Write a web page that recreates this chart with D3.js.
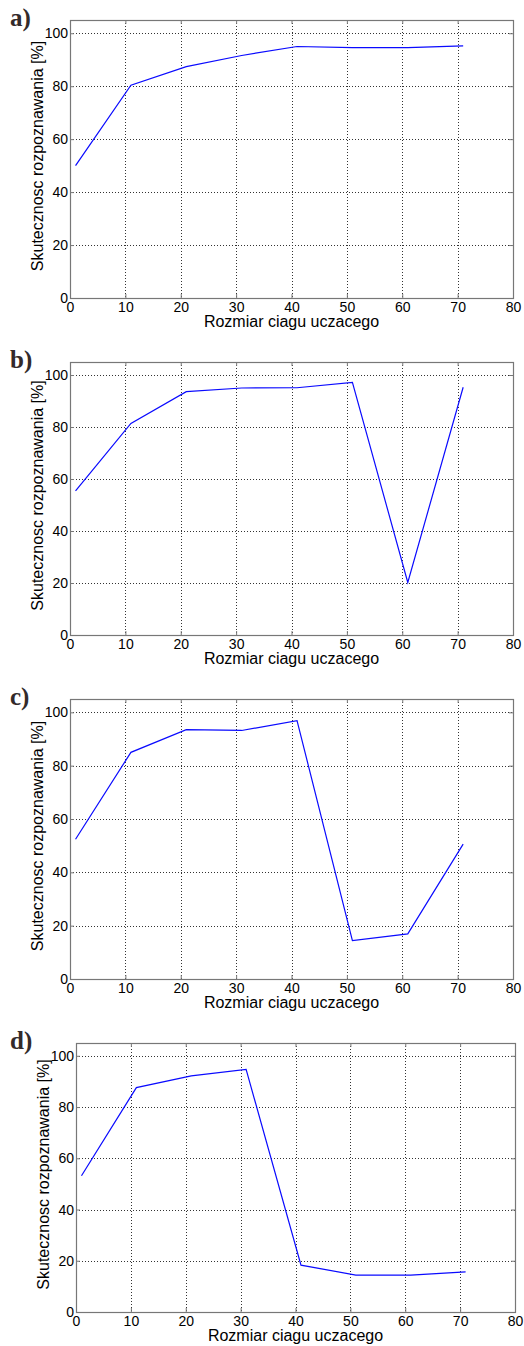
<!DOCTYPE html>
<html>
<head>
<meta charset="utf-8">
<script src="https://cdn.jsdelivr.net/npm/d3@7"></script>
<style>
  body { margin: 0; background: #fff; }
  svg { display: block; }
  .tick text { font-family: Arial, "Liberation Sans", sans-serif; font-size: 14px; fill: #000; }
</style>
</head>
<body>
<div id="chart"></div>
<script>
const sampleSizes = [1, 11, 21, 31, 41, 51, 61, 71];
const seriesA = [50, 80.4, 87.4, 91.6, 95, 94.6, 94.6, 95.2];
const seriesB = [55.4, 81.4, 93.6, 95, 95.1, 97.2, 20.2, 95.3];
const seriesC = [52.4, 85, 93.5, 93.2, 96.9, 14.4, 16.9, 50.6];
const seriesD = [53.2, 87.6, 92.2, 94.7, 18.3, 14.4, 14.4, 15.7];
const panelLabels = ["a)", "b)", "c)", "d)"];
const xTicks = [0, 10, 20, 30, 40, 50, 60, 70, 80];
const yTicks = [0, 20, 40, 60, 80, 100];
const xTitle = "Rozmiar ciagu uczacego";
const yTitle = "Skutecznosc rozpoznawania [%]";

const width = 524, height = 1346;

// plot box of each panel
const boxes = [
    {left: 70, right: 513, top: 20, bottom: 298},
    {left: 70, right: 513, top: 362, bottom: 635},
    {left: 70, right: 513, top: 699, bottom: 979},
    {left: 76, right: 515, top: 1043, bottom: 1312}
];
const allSeries = [seriesA, seriesB, seriesC, seriesD];

const svg = d3.select("#chart")
    .append("svg")
    .attr("width", width)
    .attr("height", height)
    .attr("viewBox", [0, 0, width, height]);

boxes.forEach((b, i) => {
    const x = d3.scaleLinear().domain([0, 80]).range([b.left, b.right]);
    const y = d3.scaleLinear().domain([0, 105]).range([b.bottom, b.top]);
    const g = svg.append("g");

    // grid
    const grid = g.append("g")
        .attr("stroke", "#333")
        .attr("stroke-width", 1)
        .attr("stroke-dasharray", "1,2");
    grid.selectAll(".gx")
        .data(xTicks.slice(1, -1))
        .join("line")
            .attr("x1", d => Math.round(x(d)) + 0.5)
            .attr("x2", d => Math.round(x(d)) + 0.5)
            .attr("y1", b.top)
            .attr("y2", b.bottom);
    grid.selectAll(".gy")
        .data(yTicks.slice(1))
        .join("line")
            .attr("y1", d => Math.round(y(d)) + 0.5)
            .attr("y2", d => Math.round(y(d)) + 0.5)
            .attr("x1", b.left)
            .attr("x2", b.right);

    // axes
    g.append("g")
        .attr("transform", `translate(0, ${b.bottom})`)
        .call(d3.axisBottom(x).tickValues(xTicks).tickSize(-4).tickPadding(4))
        .call(a => a.select(".domain").remove())
        .call(a => a.selectAll(".tick line").attr("stroke", "#777"));
    g.append("g")
        .attr("transform", `translate(${b.left}, 0)`)
        .call(d3.axisLeft(y).tickValues(yTicks).tickSize(-4).tickPadding(2))
        .call(a => a.select(".domain").remove())
        .call(a => a.selectAll(".tick line").attr("stroke", "#777"));
    g.append("g")
        .attr("transform", `translate(0, ${b.top})`)
        .call(d3.axisTop(x).tickValues(xTicks).tickSize(-4).tickFormat(""))
        .call(a => a.select(".domain").remove())
        .call(a => a.selectAll(".tick line").attr("stroke", "#777"));
    g.append("g")
        .attr("transform", `translate(${b.right}, 0)`)
        .call(d3.axisRight(y).tickValues(yTicks).tickSize(-4).tickFormat(""))
        .call(a => a.select(".domain").remove())
        .call(a => a.selectAll(".tick line").attr("stroke", "#777"));

    // box
    g.append("rect")
        .attr("x", b.left + 0.5)
        .attr("y", b.top + 0.5)
        .attr("width", b.right - b.left)
        .attr("height", b.bottom - b.top)
        .attr("fill", "none")
        .attr("stroke", "#777")
        .attr("stroke-width", 1.2);

    // series
    const line = d3.line()
        .x((d, j) => x(sampleSizes[j]))
        .y(d => y(d));
    g.append("path")
        .datum(allSeries[i])
        .attr("d", line)
        .attr("fill", "none")
        .attr("stroke", "#0a0aff")
        .attr("stroke-width", 1.2);

    // titles
    g.append("text")
        .attr("x", (b.left + b.right) / 2)
        .attr("y", b.bottom + 29)
        .attr("text-anchor", "middle")
        .style("font-family", "Arial, 'Liberation Sans', sans-serif")
        .style("font-size", "16px")
        .text(xTitle);
    g.append("text")
        .attr("transform", `translate(${b.left - 27}, ${(b.top + b.bottom) / 2 - 3}) rotate(-90)`)
        .attr("text-anchor", "middle")
        .style("font-family", "Arial, 'Liberation Sans', sans-serif")
        .style("font-size", "16px")
        .text(yTitle);

    g.append("text")
        .attr("x", 10)
        .attr("y", b.top + 6)
        .style("font-family", "'Liberation Serif', 'Times New Roman', serif")
        .style("font-weight", "bold")
        .style("font-size", "25px")
        .style("fill", "#332a2a")
        .text(panelLabels[i]);
});
</script>
</body>
</html>
